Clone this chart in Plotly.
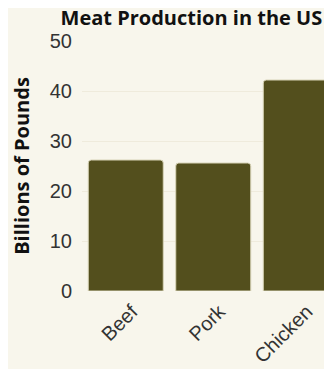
import plotly.graph_objects as go

categories = ["Beef", "Pork", "Chicken"]
values = [26.2, 25.6, 42.2]
y_ticks = [0, 10, 20, 30, 40, 50]

bg = "#f8f6ec"
bar_color = "#534f1d"

fig = go.Figure(go.Bar(
    x=categories, y=values,
    marker=dict(color=bar_color, line=dict(color="#d8d4b8", width=1), cornerradius=3),
))

fig.update_layout(
    width=324, height=361,
    paper_bgcolor=bg, plot_bgcolor=bg,
    margin=dict(l=74, r=0, t=33, b=78),
    bargap=0.143,
    showlegend=False,
    title=dict(text="<b>Meat Production in the US</b>", x=0.566, xref="container",
               xanchor="center", y=0.972, yanchor="middle",
               font=dict(family="Open Sans", size=20, color="#111111")),
    font=dict(family="Liberation Sans, Arial", color="#333333"),
)
fig.update_xaxes(range=[-0.5, 2.357], tickangle=-45, showgrid=False, showline=False,
                 zeroline=False, tickfont=dict(size=20, family="Liberation Sans, Arial", color="#333333"),
                 ticks="", ticklabelshift=6, ticklabelstandoff=4)
fig.update_yaxes(range=[0, 50], tickvals=y_ticks, showgrid=True, gridcolor="#efebdc",
                 zeroline=False, showline=False, ticks="", ticklabelstandoff=9,
                 tickfont=dict(size=20, family="Liberation Sans, Arial", color="#333333"),
                 title=dict(text="<b>Billions of Pounds</b>", standoff=18,
                            font=dict(family="Open Sans", size=20, color="#111111")))

fig.write_html("out.html")
